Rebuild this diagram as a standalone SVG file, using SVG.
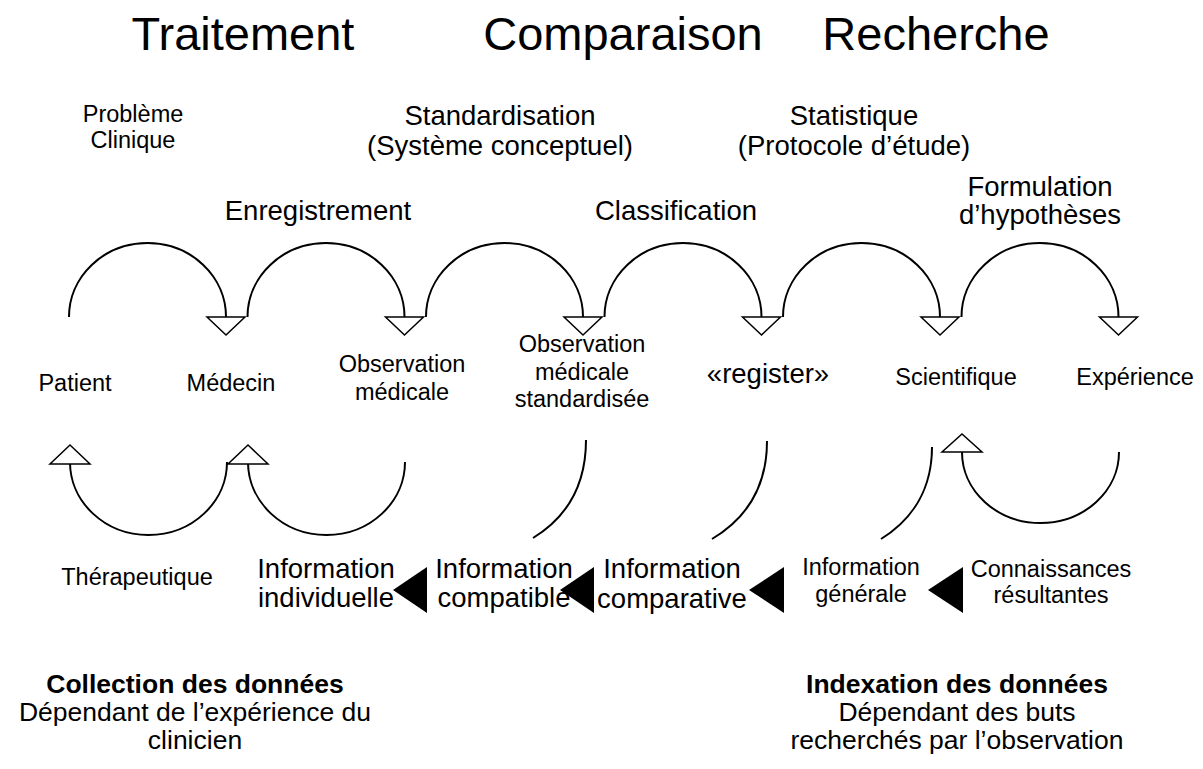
<svg xmlns="http://www.w3.org/2000/svg" width="1203" height="769" viewBox="0 0 1203 769">
<style>
text{font-family:"Liberation Sans",Arial,sans-serif;fill:#000;text-anchor:middle}
.t{font-size:47px}
.m{font-size:27.5px}
.n{font-size:26.5px}
.s{font-size:23.5px}
.b{font-weight:bold}
.arc{fill:none;stroke:#000;stroke-width:2}
.oa{fill:#fff;stroke:#000;stroke-width:1.5;stroke-linejoin:miter}
.fa{fill:#000;stroke:none}
</style>
<rect width="1203" height="769" fill="#fff"/>
<g id="titles">
<text class="t" x="243" y="50">Traitement</text>
<text class="t" x="623" y="50">Comparaison</text>
<text class="t" x="936" y="50">Recherche</text>
</g>
<g id="process-labels">
<text class="s" x="133" y="122">Problème</text>
<text class="s" x="133" y="148">Clinique</text>
<text class="m" x="500" y="125">Standardisation</text>
<text class="m" x="500" y="155">(Système conceptuel)</text>
<text class="m" x="854" y="125">Statistique</text>
<text class="m" x="854" y="155">(Protocole d’étude)</text>
<text class="m" x="318" y="220">Enregistrement</text>
<text class="m" x="676" y="220">Classification</text>
<text class="m" x="1040" y="196">Formulation</text>
<text class="m" x="1040" y="224">d’hypothèses</text>
<text class="s" x="137" y="585">Thérapeutique</text>
</g>
<g id="node-patient"><text class="s" x="75" y="391">Patient</text></g>
<g id="node-medecin"><text class="s" x="231" y="391">Médecin</text></g>
<g id="node-observation"><text class="s" x="402" y="372">Observation</text><text class="s" x="402" y="400">médicale</text></g>
<g id="node-observation-std"><text class="s" x="582" y="352">Observation</text><text class="s" x="582" y="380">médicale</text><text class="s" x="582" y="407">standardisée</text></g>
<g id="node-register"><text class="m" x="768" y="383">«register»</text></g>
<g id="node-scientifique"><text class="s" x="956" y="385">Scientifique</text></g>
<g id="node-experience"><text class="s" x="1135" y="385">Expérience</text></g>
<g id="node-info-individuelle"><text class="m" x="326" y="578">Information</text><text class="m" x="326" y="607">individuelle</text></g>
<g id="node-info-compatible"><text class="m" x="504" y="578">Information</text><text class="m" x="504" y="607">compatible</text></g>
<g id="node-info-comparative"><text class="m" x="672" y="578">Information</text><text class="m" x="672" y="608">comparative</text></g>
<g id="node-info-generale"><text class="s" x="861" y="575">Information</text><text class="s" x="861" y="602">générale</text></g>
<g id="node-connaissances"><text class="s" x="1051" y="577">Connaissances</text><text class="s" x="1051" y="603">résultantes</text></g>
<g id="notes">
<text class="n b" x="195" y="693">Collection des données</text>
<text class="n" x="195" y="721">Dépendant de l’expérience du</text>
<text class="n" x="195" y="749">clinicien</text>
<text class="n b" x="957" y="693">Indexation des données</text>
<text class="n" x="957" y="721">Dépendant des buts</text>
<text class="n" x="957" y="749">recherchés par l’observation</text>
</g>
<g id="connectors">
<path class="arc" d="M69,317 A78.5,74 0 0 1 226,317"/>
<path class="arc" d="M247.5,317 A78.5,74 0 0 1 404.5,317"/>
<path class="arc" d="M426,317 A78.5,74 0 0 1 583,317"/>
<path class="arc" d="M604.5,317 A78.5,74 0 0 1 761.5,317"/>
<path class="arc" d="M783,317 A78.5,74 0 0 1 940,317"/>
<path class="arc" d="M961.5,317 A78.5,74 0 0 1 1118.5,317"/>
<polygon class="oa" points="207,317 245,317 226,335"/>
<polygon class="oa" points="385.5,317 423.5,317 404.5,335"/>
<polygon class="oa" points="564,317 602,317 583,335"/>
<polygon class="oa" points="742.5,317 780.5,317 761.5,335"/>
<polygon class="oa" points="921,317 959,317 940,335"/>
<polygon class="oa" points="1099.5,317 1137.5,317 1118.5,335"/>
<path class="arc" d="M227,462 A78.5,73 0 0 1 70,462"/>
<path class="arc" d="M405,462 A78.5,73 0 0 1 248,462"/>
<polygon class="oa" points="50,464 90,464 70,445"/>
<polygon class="oa" points="228,464 268,464 248,445"/>
<path class="arc" d="M586,440 C586,482 569,516 533,538"/>
<path class="arc" d="M767,441 C767,483 749,517 712,539"/>
<path class="arc" d="M932,447 C932,486 915,518 881,539"/>
<path class="arc" d="M1119,452 A78.5,71 0 0 1 962,452"/>
<polygon class="oa" points="942,452 982,452 962,434"/>
<polygon class="fa" points="393,590 427,567 427,613"/>
<polygon class="fa" points="560,590 594,567 594,613"/>
<polygon class="fa" points="749,590 784,567 784,613"/>
<polygon class="fa" points="928,590 963,567 963,613"/>
</g>
</svg>
